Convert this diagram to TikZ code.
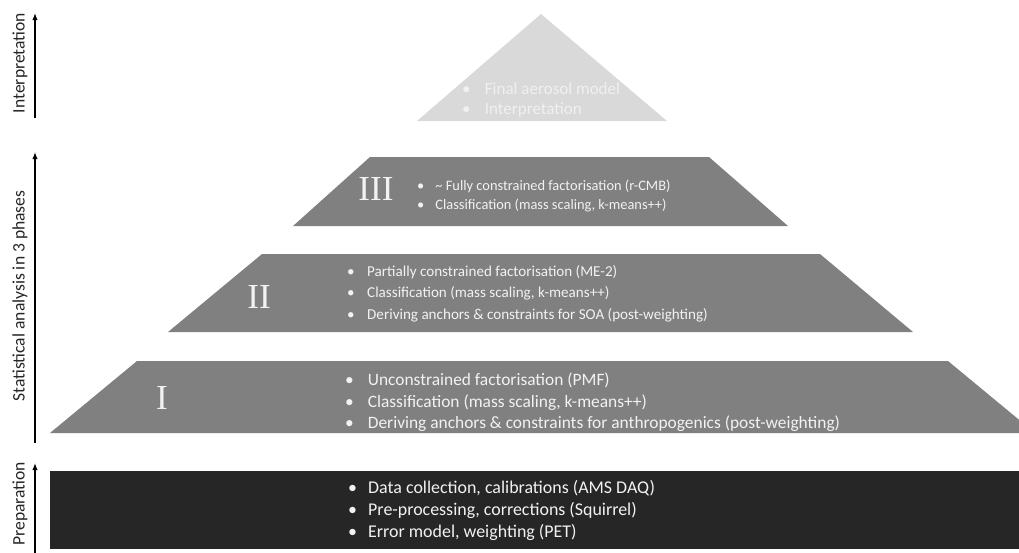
\documentclass[tikz,border=0pt]{standalone}
\usepackage{fontspec}
\setmainfont{Carlito}
\newfontfamily\numfont{Liberation Serif}
\usetikzlibrary{arrows.meta}
\definecolor{tiergray}{HTML}{808080}
\definecolor{topgray}{HTML}{D9D9D9}
\definecolor{basedark}{HTML}{262626}
\definecolor{paletext}{HTML}{F2F2F2}
\newcommand{\bul}[1]{\makebox[#1][l]{\textbullet}}

\begin{document}
\begin{tikzpicture}[
  x=0.02cm, y=-0.02cm,
  every node/.style={inner sep=0pt, outer sep=0pt},
  tier/.style={fill=tiergray},
  tiertext/.style={
    anchor=west, align=left, text=paletext,
    font=\fontsize{8.6}{12.2}\selectfont
  },
  numeral/.style={text=paletext, font=\numfont\fontsize{20}{20}\selectfont},
  axis/.style={draw=black, line width=0.6pt, -{Latex[length=4pt,width=3pt]}},
  axislabel/.style={rotate=90, text=basedark, font=\fontsize{10}{12}\selectfont}
]
\useasboundingbox (0,0) rectangle (1019,552);
\clip (0,0) rectangle (1019,552);

% ---- Interpretation (top triangle) ----
\fill[topgray] (541,14) -- (667,121) -- (417,121) -- cycle;
\node[tiertext, text=white!94!black, font=\fontsize{9.7}{11.5}\selectfont]
  (finaltxt) at (462,100)
  {\bul{13pt}Final aerosol model\\
   \bul{13pt}Interpretation};

% ---- Phase III ----
\fill[tier] (293,226) -- (370,157) -- (709,157) -- (788,226) -- cycle;
\node[numeral] (phaseiii) at (376,189) {III};
\node[tiertext, font=\fontsize{8.2}{10.8}\selectfont] (iiitxt) at (417,195.5)
  {\bul{10.5pt}\textasciitilde{} Fully constrained factorisation (r-CMB)\\
   \bul{10.5pt}Classification (mass scaling, k-means++)};

% ---- Phase II ----
\fill[tier] (168,332) -- (262,254) -- (820,254) -- (913,332) -- cycle;
\node[numeral] (phaseii) at (259,297) {II};
\node[tiertext] (iitxt) at (347,293.5)
  {\bul{11.5pt}Partially constrained factorisation (ME-2)\\
   \bul{11.5pt}Classification (mass scaling, k-means++)\\
   \bul{11.5pt}Deriving anchors \& constraints for SOA (post-weighting)};

% ---- Phase I ----
\fill[tier] (50,433) -- (137,361) -- (948,361) -- (1035,433) -- cycle;
\node[numeral] (phasei) at (162,398) {I};
\node[tiertext, font=\fontsize{9.9}{12.2}\selectfont] (itxt) at (345,402.5)
  {\bul{13pt}Unconstrained factorisation (PMF)\\
   \bul{13pt}Classification (mass scaling, k-means++)\\
   \bul{13pt}Deriving anchors \& constraints for anthropogenics (post-weighting)};

% ---- Preparation (base) ----
\fill[basedark] (50,471) rectangle (1019,549);
\node[tiertext, font=\fontsize{10.2}{12.75}\selectfont] (preptxt) at (348,510.5)
  {\bul{11.5pt}Data collection, calibrations (AMS DAQ)\\
   \bul{11.5pt}Pre-processing, corrections (Squirrel)\\
   \bul{11.5pt}Error model, weighting (PET)};

% ---- Stage axes on the left ----
\coordinate (interp-lo) at (35,118);
\coordinate (interp-hi) at (35,13);
\coordinate (stat-lo) at (35,443);
\coordinate (stat-hi) at (35,152);
\coordinate (prep-lo) at (35,560);
\coordinate (prep-hi) at (35,463);
\draw[axis] (interp-lo) -- (interp-hi);
\draw[axis] (stat-lo) -- (stat-hi);
\draw[axis] (prep-lo) -- (prep-hi);

\node[axislabel] (interplab) at (20,63) {Interpretation};
\node[axislabel] (statlab) at (20,296) {Statistical analysis in 3 phases};
\node[axislabel, anchor=east] (preplab) at (20,462) {Preparation};

\end{tikzpicture}
\end{document}
